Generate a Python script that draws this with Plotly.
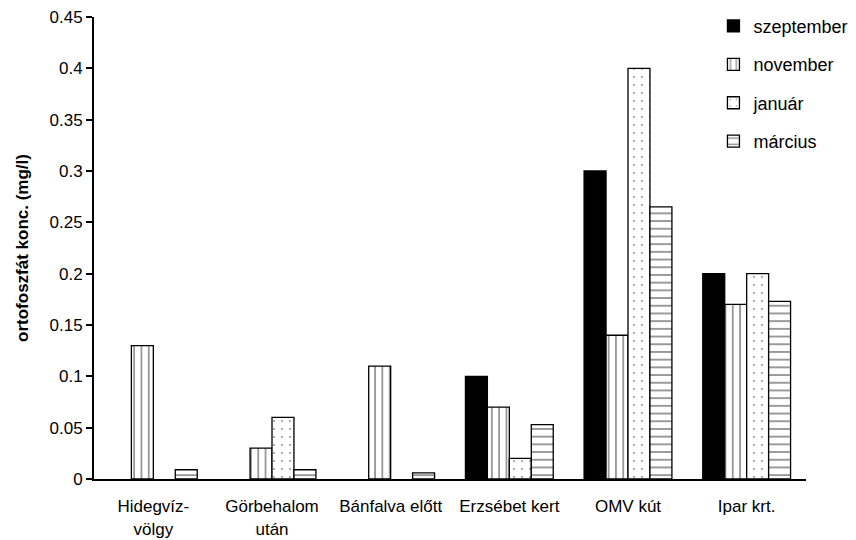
import plotly.graph_objects as go

# Sampling sites along the stream
sites = ["Hidegvíz-<br>völgy", "Görbehalom<br>után", "Bánfalva előtt",
         "Erzsébet kert", "OMV kút", "Ipar krt."]

# Orthophosphate concentration (mg/l) per sampling month (None = not measured)
szeptember = [None, None, None, 0.10, 0.30, 0.20]
november = [0.13, 0.03, 0.11, 0.07, 0.14, 0.17]
januar = [None, 0.06, None, 0.02, 0.40, 0.20]
marcius = [0.009, 0.009, 0.006, 0.053, 0.265, 0.173]

y_ticks = [0, 0.05, 0.1, 0.15, 0.2, 0.25, 0.3, 0.35, 0.4, 0.45]

FONT = "Liberation Sans, Arial, sans-serif"
outline = dict(color="black", width=1.3)

series = [
    ("szeptember", szeptember, dict(color="black", line=outline)),
    ("november", november, dict(color="white", line=outline,
                                pattern=dict(shape="|", size=7.3, solidity=0.2,
                                             fgcolor="black", bgcolor="white"))),
    ("január", januar, dict(color="white", line=outline,
                            pattern=dict(shape=".", size=8, solidity=0.045,
                                         fgcolor="#222", bgcolor="white"))),
    ("március", marcius, dict(color="white", line=outline,
                              pattern=dict(shape="-", size=7.7, solidity=0.2,
                                           fgcolor="black", bgcolor="white"))),
]

fig = go.Figure()
for name, vals, marker in series:
    fig.add_trace(go.Bar(x=sites, y=vals, name=name, marker=marker,
                         legendgroup=name))

fig.update_layout(
    width=856, height=540,
    margin=dict(l=94, r=50, t=17, b=61, autoexpand=False),
    paper_bgcolor="white", plot_bgcolor="white",
    font=dict(family=FONT, size=17, color="black"),
    barmode="group", bargap=0.26, bargroupgap=0,
    showlegend=True,
    legend=dict(x=0.87, y=1.02, xanchor="left", yanchor="top",
                font=dict(size=18), tracegroupgap=12, itemwidth=30,
                bgcolor="rgba(0,0,0,0)"),
)

fig.update_xaxes(showline=True, linecolor="black", linewidth=2,
                 ticks="", showgrid=False, zeroline=False, automargin=False,
                 tickfont=dict(size=17), ticklabelstandoff=11)
fig.update_yaxes(range=[0, 0.45], tickvals=y_ticks,
                 ticktext=[f"{v:g}" for v in y_ticks],
                 showline=True, linecolor="black", linewidth=2,
                 ticks="outside", ticklen=6, tickwidth=2, tickcolor="black",
                 showgrid=False, zeroline=False, tickfont=dict(size=17),
                 automargin=False,
                 title=dict(text="<b>ortofoszfát konc. (mg/l)</b>",
                            font=dict(size=17), standoff=17))

fig.write_html("out.html")
